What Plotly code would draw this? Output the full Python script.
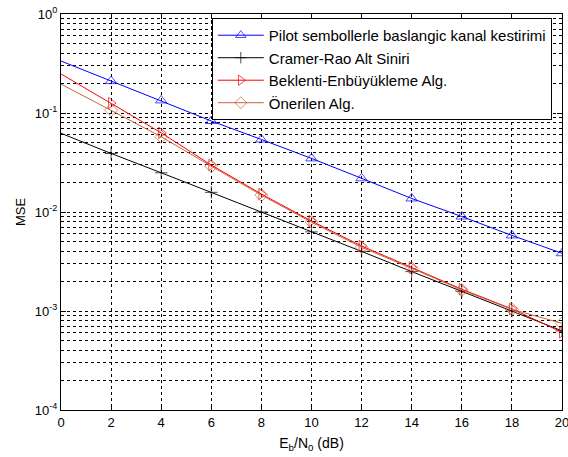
import plotly.graph_objects as go

ebn0 = [0, 2, 4, 6, 8, 10, 12, 14, 16, 18, 20]
pilot = [0.335, 0.21, 0.134, 0.083, 0.054, 0.0348, 0.0219, 0.0137, 0.0090, 0.0058, 0.00383]
crb = [0.0624, 0.039, 0.0249, 0.0158, 0.0100, 0.0063, 0.0040, 0.0025, 0.00158, 0.00100, 0.00063]
em = [0.248, 0.126, 0.063, 0.0298, 0.0152, 0.0081, 0.00454, 0.00275, 0.00166, 0.00105, 0.00061]
prop = [0.196, 0.107, 0.0576, 0.0290, 0.0148, 0.0079, 0.0044, 0.0027, 0.00163, 0.00104, 0.00075]

names = ["Pilot sembollerle baslangic kanal kestirimi", "Cramer-Rao Alt Siniri",
         "Beklenti-Enbüyükleme Alg.", "Önerilen Alg."]
ytickvals = [1, 0.1, 0.01, 0.001, 0.0001]
yticktext = ["10<sup>0</sup>", "10<sup>-1</sup>", "10<sup>-2</sup>", "10<sup>-3</sup>", "10<sup>-4</sup>"]
yminorvals = [m * d for d in [0.0001, 0.001, 0.01, 0.1] for m in [2, 3, 4, 5, 6, 7, 8, 9]]
xtickvals = [0, 2, 4, 6, 8, 10, 12, 14, 16, 18, 20]

FONT = "Liberation Sans, Arial, sans-serif"

series = [
    (pilot, "#0000FF", "triangle-up-open", 10),
    (crb, "#000000", "cross-thin-open", 9),
    (em, "#FF0000", "triangle-right-open", 10),
    (prop, "#C8643C", "diamond-open", 10),
]

fig = go.Figure()
for (vals, col, sym, sz), nm in zip(series, names):
    sizes = [0] + [sz] * (len(ebn0) - 1)
    fig.add_trace(go.Scatter(
        x=ebn0, y=vals, name=nm, mode="lines+markers",
        line=dict(color=col, width=1),
        marker=dict(symbol=sym, size=sizes, color=col, line=dict(color=col, width=1)),
    ))

axis_common = dict(
    showline=True, linecolor="black", linewidth=1, mirror="ticks",
    ticks="inside", ticklen=5, tickcolor="black",
    showgrid=True, gridcolor="black", griddash="3px,3px", gridwidth=1,
    zeroline=False, automargin=False, ticklabeloverflow="allow",
    tickfont=dict(family=FONT, size=13, color="black"),
)

fig.update_xaxes(range=[0, 20], tickmode="array", tickvals=xtickvals, **axis_common,
                 title=dict(text="E<sub>b</sub>/N<sub>0</sub> (dB)", standoff=9,
                            font=dict(family=FONT, size=14, color="black")))
fig.update_yaxes(type="log", range=[-4, 0], tickmode="array", tickvals=ytickvals, ticktext=yticktext,
                 **axis_common,
                 minor=dict(tickmode="array", tickvals=yminorvals, showgrid=True, gridcolor="black",
                            griddash="3px,3px", gridwidth=1,
                            ticks="inside", ticklen=3, tickcolor="black"),
                 title=dict(text="MSE", standoff=6,
                            font=dict(family=FONT, size=13, color="black")))

fig.update_layout(
    width=568, height=457,
    margin=dict(l=61, r=6, t=14, b=47),
    paper_bgcolor="white", plot_bgcolor="white",
    font=dict(family=FONT, size=13, color="black"),
    showlegend=True,
    legend=dict(x=0.301, y=0.99, xanchor="left", yanchor="top",
                bgcolor="white", bordercolor="black", borderwidth=1,
                font=dict(family=FONT, size=15, color="black"),
                itemwidth=46, tracegroupgap=0),
)

fig.write_html("out.html", config={"displayModeBar": False})

# remove default browser body margin so the figure sits at the page origin
with open("out.html", "r", encoding="utf-8") as f:
    html = f.read()
html = html.replace("<head>", "<head><style>html,body{margin:0;padding:0;}</style>", 1)
with open("out.html", "w", encoding="utf-8") as f:
    f.write(html)
